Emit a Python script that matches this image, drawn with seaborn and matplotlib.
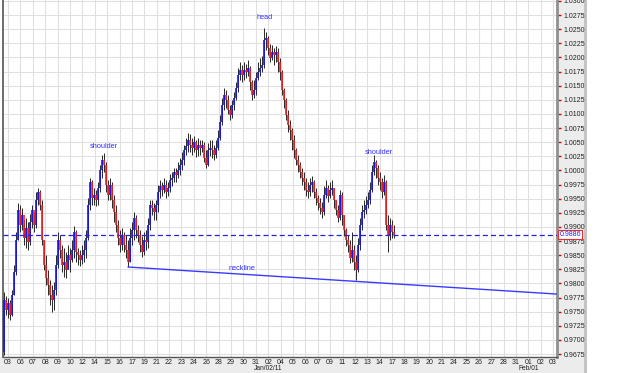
import numpy as np
import pandas as pd
import matplotlib
matplotlib.use("Agg")
import matplotlib.pyplot as plt
import matplotlib.transforms as mtransforms
from matplotlib.patches import Rectangle
import seaborn as sns

# ---------------- data ----------------
first_open = 0.9679

closes = [
    0.9771, 0.9753, 0.9765, 0.9744, 0.9779, 0.9820, 0.9877, 0.9930, 0.9903, 0.9921,
    0.9880, 0.9898, 0.9873, 0.9909, 0.9930, 0.9903, 0.9948, 0.9962, 0.9939, 0.9877,
    0.9833, 0.9810, 0.9797, 0.9779, 0.9771, 0.9788, 0.9833, 0.9877, 0.9859, 0.9833,
    0.9838, 0.9824, 0.9850, 0.9841, 0.9859, 0.9891, 0.9856, 0.9850, 0.9841, 0.9850,
    0.9859, 0.9880, 0.9939, 0.9979, 0.9951, 0.9956, 0.9948, 0.9969, 1.0001, 1.0018,
    1.0009, 0.9974, 0.9956, 0.9974, 0.9948, 0.9926, 0.9903, 0.9880, 0.9868, 0.9886,
    0.9868, 0.9859, 0.9838, 0.9880, 0.9894, 0.9916, 0.9894, 0.9886, 0.9868, 0.9856,
    0.9877, 0.9873, 0.9903, 0.9939, 0.9933, 0.9926, 0.9939, 0.9962, 0.9972, 0.9965,
    0.9974, 0.9962, 0.9969, 0.9983, 0.9986, 0.9997, 0.9992, 1.0001, 1.0009, 1.0018,
    1.0036, 1.0043, 1.0054, 1.0045, 1.0040, 1.0050, 1.0036, 1.0045, 1.0040, 1.0045,
    1.0022, 1.0009, 1.0036, 1.0040, 1.0036, 1.0027, 1.0040, 1.0057, 1.0086, 1.0116,
    1.0133, 1.0125, 1.0107, 1.0098, 1.0116, 1.0128, 1.0146, 1.0169, 1.0178, 1.0169,
    1.0178, 1.0174, 1.0181, 1.0156, 1.0133, 1.0142, 1.0163, 1.0174, 1.0181, 1.0186,
    1.0231, 1.0234, 1.0217, 1.0199, 1.0210, 1.0204, 1.0210, 1.0192, 1.0174, 1.0142,
    1.0125, 1.0098, 1.0080, 1.0071, 1.0054, 1.0036, 1.0018, 1.0009, 0.9997, 0.9986,
    0.9979, 0.9965, 0.9962, 0.9974, 0.9979, 0.9962, 0.9951, 0.9942, 0.9933, 0.9926,
    0.9956, 0.9969, 0.9955, 0.9965, 0.9969, 0.9948, 0.9930, 0.9916, 0.9956, 0.9921,
    0.9894, 0.9877, 0.9868, 0.9845, 0.9859, 0.9838, 0.9824, 0.9868, 0.9903, 0.9926,
    0.9930, 0.9939, 0.9948, 0.9965, 0.9997, 1.0015, 1.0004, 0.9986, 0.9979, 0.9962,
    0.9979, 0.9903, 0.9886, 0.9903, 0.9891, 0.9886,
]

highs = [
    0.9785, 0.9778, 0.9774, 0.9771, 0.9788, 0.9832, 0.9891, 0.9942, 0.9939, 0.9933,
    0.9912, 0.9916, 0.9909, 0.9923, 0.9939, 0.9926, 0.9962, 0.9969, 0.9965, 0.9948,
    0.9877, 0.9850, 0.9824, 0.9806, 0.9797, 0.9803, 0.9850, 0.9891, 0.9886, 0.9868,
    0.9863, 0.9856, 0.9868, 0.9863, 0.9877, 0.9902, 0.9894, 0.9863, 0.9859, 0.9868,
    0.9877, 0.9894, 0.9951, 0.9986, 0.9983, 0.9969, 0.9965, 0.9979, 1.0009, 1.0027,
    1.0031, 1.0015, 0.9983, 0.9986, 0.9979, 0.9956, 0.9939, 0.9912, 0.9894, 0.9898,
    0.9891, 0.9886, 0.9877, 0.9898, 0.9909, 0.9926, 0.9921, 0.9903, 0.9894, 0.9884,
    0.9891, 0.9894, 0.9916, 0.9948, 0.9948, 0.9942, 0.9948, 0.9974, 0.9983, 0.9979,
    0.9986, 0.9983, 0.9979, 0.9994, 0.9997, 1.0004, 1.0004, 1.0015, 1.0022, 1.0033,
    1.0045, 1.0057, 1.0066, 1.0064, 1.0057, 1.0061, 1.0054, 1.0057, 1.0054, 1.0054,
    1.0050, 1.0036, 1.0048, 1.0054, 1.0054, 1.0045, 1.0054, 1.0071, 1.0098, 1.0128,
    1.0146, 1.0142, 1.0133, 1.0116, 1.0125, 1.0139, 1.0156, 1.0181, 1.0192, 1.0186,
    1.0192, 1.0188, 1.0195, 1.0185, 1.0160, 1.0160, 1.0174, 1.0192, 1.0199, 1.0202,
    1.0252, 1.0245, 1.0238, 1.0224, 1.0222, 1.0217, 1.0220, 1.0217, 1.0199, 1.0178,
    1.0146, 1.0128, 1.0107, 1.0089, 1.0075, 1.0063, 1.0040, 1.0027, 1.0015, 1.0004,
    0.9997, 0.9986, 0.9979, 0.9986, 0.9990, 0.9983, 0.9969, 0.9956, 0.9951, 0.9944,
    0.9972, 0.9983, 0.9974, 0.9979, 0.9983, 0.9969, 0.9948, 0.9939, 0.9965, 0.9962,
    0.9921, 0.9898, 0.9886, 0.9877, 0.9891, 0.9868, 0.9850, 0.9880, 0.9916, 0.9939,
    0.9948, 0.9955, 0.9962, 0.9979, 1.0009, 1.0027, 1.0018, 1.0009, 0.9997, 0.9986,
    0.9992, 0.9983, 0.9921, 0.9916, 0.9912, 0.9903,
]

lows = [
    0.9673, 0.9744, 0.9739, 0.9735, 0.9742, 0.9779, 0.9815, 0.9877, 0.9891, 0.9894,
    0.9868, 0.9863, 0.9859, 0.9868, 0.9898, 0.9891, 0.9898, 0.9939, 0.9930, 0.9868,
    0.9824, 0.9797, 0.9779, 0.9762, 0.9749, 0.9753, 0.9779, 0.9827, 0.9845, 0.9820,
    0.9811, 0.9810, 0.9827, 0.9820, 0.9838, 0.9845, 0.9838, 0.9833, 0.9831, 0.9834,
    0.9838, 0.9845, 0.9877, 0.9930, 0.9939, 0.9939, 0.9937, 0.9939, 0.9962, 0.9986,
    0.9997, 0.9962, 0.9948, 0.9948, 0.9933, 0.9909, 0.9891, 0.9868, 0.9856, 0.9859,
    0.9856, 0.9845, 0.9829, 0.9838, 0.9868, 0.9877, 0.9880, 0.9873, 0.9856, 0.9847,
    0.9850, 0.9859, 0.9863, 0.9894, 0.9921, 0.9912, 0.9912, 0.9926, 0.9951, 0.9955,
    0.9960, 0.9951, 0.9955, 0.9962, 0.9972, 0.9979, 0.9979, 0.9986, 0.9992, 1.0001,
    1.0009, 1.0027, 1.0033, 1.0033, 1.0027, 1.0033, 1.0024, 1.0025, 1.0027, 1.0033,
    1.0015, 1.0004, 1.0008, 1.0025, 1.0022, 1.0018, 1.0022, 1.0036, 1.0054, 1.0080,
    1.0107, 1.0110, 1.0100, 1.0089, 1.0093, 1.0107, 1.0125, 1.0139, 1.0160, 1.0156,
    1.0160, 1.0163, 1.0167, 1.0142, 1.0125, 1.0128, 1.0133, 1.0160, 1.0167, 1.0174,
    1.0181, 1.0213, 1.0204, 1.0192, 1.0195, 1.0186, 1.0192, 1.0174, 1.0160, 1.0133,
    1.0110, 1.0089, 1.0068, 1.0054, 1.0036, 1.0022, 1.0009, 0.9997, 0.9986, 0.9974,
    0.9965, 0.9955, 0.9951, 0.9955, 0.9962, 0.9951, 0.9939, 0.9930, 0.9923, 0.9916,
    0.9921, 0.9951, 0.9944, 0.9951, 0.9956, 0.9933, 0.9921, 0.9909, 0.9912, 0.9903,
    0.9884, 0.9866, 0.9856, 0.9836, 0.9838, 0.9824, 0.9806, 0.9820, 0.9859, 0.9894,
    0.9916, 0.9923, 0.9933, 0.9940, 0.9962, 0.9992, 0.9986, 0.9974, 0.9965, 0.9951,
    0.9956, 0.9894, 0.9856, 0.9877, 0.9880, 0.9880,
]

date_labels = ["03", "06", "07", "08", "09", "10", "12", "14", "15", "16",
               "17", "19", "21", "22", "23", "24", "26", "28", "29", "30",
               "31", "02", "04", "05", "06", "07", "09", "11", "12", "13",
               "14", "17", "18", "19", "20", "21", "24", "25", "26", "27",
               "28", "31", "01", "02", "03"]
month_labels = {21: "Jan/02/11", 42: "Feb/01"}

last_price = 0.9886
neck_x = [62, 280]          # bar index
neck_y = [0.9829, 0.97803]

notes = [("head", 130.5, 1.0270), ("shoulder", 50, 1.0043),
         ("shoulder", 187.5, 1.0031), ("neckline", 119, 0.9827)]

# ---------------- figure ----------------
sns.set_style("white")
plt.rcParams["font.family"] = ["Liberation Sans", "DejaVu Sans"]

W, H = 625, 373
fig = plt.figure(figsize=(W / 100, H / 100), dpi=100)
fig.patch.set_facecolor("white")

# light gray axis strips
fig.add_artist(Rectangle((557 / W, 0), (584 - 557) / W, 1, transform=fig.transFigure,
                         facecolor="#ececec", edgecolor="none", zorder=0))
fig.add_artist(Rectangle((0, 0), 584 / W, 16 / H, transform=fig.transFigure,
                         facecolor="#ececec", edgecolor="none", zorder=0))
fig.add_artist(Rectangle((584 / W, 0), 3 / W, 1, transform=fig.transFigure,
                         facecolor="#c4c4c4", edgecolor="none", zorder=0))

ax = fig.add_axes([3 / W, 16 / H, 554 / W, 357 / H])
ax.set_facecolor("white")

n = len(closes)
idx = np.arange(n)
c = np.array(closes)
h = np.array(highs)
l = np.array(lows)
o = np.r_[first_open, c[:-1]]
up = c >= o

ax.vlines(idx, l, h, color="#262626", lw=0.7, zorder=3)
ax.vlines(idx[up], o[up], c[up], color="#1414ff", lw=1.2, zorder=4)
ax.vlines(idx[~up], o[~up], c[~up], color="#ff1e1e", lw=1.2, zorder=4)

sns.lineplot(x=neck_x, y=neck_y, ax=ax, color="#3a3aff", lw=1.0, zorder=5)
ax.axhline(last_price, color="#2323e6", lw=0.9, ls=(0, (4, 2.5)), zorder=5)

for txt, x, y in notes:
    ax.text(x, y, txt, color="#3030ff", fontsize=5.3, ha="center", va="center", zorder=6)

# axes limits / ticks
ax.set_xlim(-0.5, 276.5)
ax.set_ylim(0.96697, 1.03016)
yt = np.arange(0.9675, 1.03001, 0.0025)
ax.set_yticks(yt)
ax.set_yticklabels([f"{v:.4f}" for v in yt])
ax.yaxis.tick_right()
xt = 2 + np.arange(len(date_labels)) * 6.195
ax.set_xticks(xt)
ax.set_xticklabels(date_labels)

ax.tick_params(axis="y", direction="out", length=3, width=1, color="#e00000",
               labelsize=5, labelcolor="#222222", pad=1.5)
ax.tick_params(axis="x", direction="out", length=1.5, width=1, color="#e00000",
               labelsize=5, labelcolor="#222222", pad=0.3)

ax.grid(True, color="#e0e0e0", lw=0.8, zorder=0)
ax.set_axisbelow(True)

ax.spines["top"].set_visible(False)
ax.spines["left"].set_color("#555555")
ax.spines["left"].set_linewidth(1.2)
ax.spines["bottom"].set_color("#555555")
ax.spines["bottom"].set_linewidth(1.0)
ax.spines["right"].set_color("#909090")
ax.spines["right"].set_linewidth(2.0)

trans = mtransforms.blended_transform_factory(ax.transData, fig.transFigure)
for i, lab in month_labels.items():
    ax.text(xt[i], 0.5 / H, lab, transform=trans, fontsize=4.8, color="#222222",
            ha="center", va="bottom")

trans_y = mtransforms.blended_transform_factory(ax.transAxes, ax.transData)
ax.text(1.0045, last_price, f"{last_price:.4f}", transform=trans_y, fontsize=5,
        color="#2020ff", ha="left", va="center", zorder=7,
        bbox=dict(boxstyle="square,pad=0.15", facecolor="white", edgecolor="#e03030", lw=0.8))

fig.savefig("out.png", dpi=100, facecolor=fig.get_facecolor())
